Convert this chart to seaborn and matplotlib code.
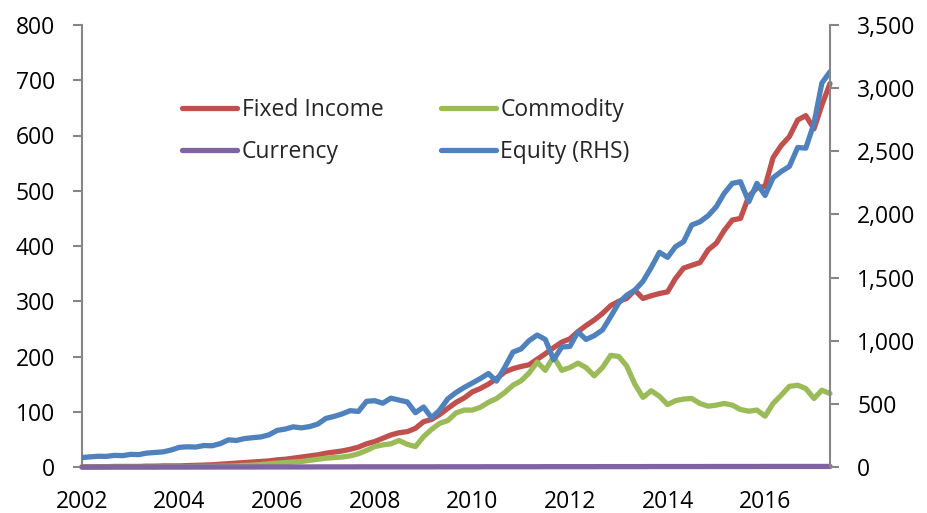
import pandas as pd
import matplotlib
matplotlib.use("Agg")
import matplotlib.pyplot as plt
import matplotlib.dates as mdates
from matplotlib.ticker import StrMethodFormatter
import seaborn as sns

# Bimonthly observations, Jan 2002 - May 2017
dates = pd.date_range("2002-01-01", "2017-05-01", freq="2MS")

fixed_income = [
    0, 0, 0.5, 0.5, 1, 1,
    1, 1, 1.5, 1.5, 2, 2,
    2, 2.5, 3, 3.5, 4, 5,
    6, 7, 8, 9, 10, 11,
    13, 14, 16, 18, 20, 22,
    25, 27, 29, 32, 36, 42,
    46, 52, 58, 62, 64, 70,
    82, 86, 95, 106, 117, 125,
    136, 142, 150, 160, 172, 178,
    182, 185, 195, 205, 216, 226,
    232, 245, 256, 266, 278, 292,
    300, 305, 320, 305, 310, 314,
    317, 341, 360, 365, 370, 393,
    405, 428, 447, 450, 490, 505,
    508, 560, 582, 598, 628, 636,
    612, 655, 694,
]
commodity = [
    0, 0, 0, 0, 0, 0,
    0, 0, 0, 0, 0.5, 0.5,
    0.5, 0.5, 1, 1, 1, 1.5,
    1.5, 2, 3, 3.5, 4.5, 6,
    7, 8, 9, 10, 12, 14,
    16, 17, 18, 20, 24, 30,
    37, 40, 42, 48, 41, 37,
    55, 68, 79, 84, 98, 103,
    103, 108, 117, 124, 135, 148,
    156, 170, 190, 175, 200, 175,
    180, 188, 180, 165, 180, 202,
    200, 183, 150, 126, 138, 128,
    113, 120, 123, 124, 115, 110,
    112, 115, 112, 104, 101, 103,
    92, 115, 130, 146, 148, 142,
    124, 139, 133,
]
currency = [
    0.0, 0.0, 0.0, 0.0, 0.0, 0.0,
    0.0, 0.0, 0.0, 0.0, 0.0, 0.0,
    0.0, 0.0, 0.0, 0.0, 0.0, 0.0,
    0.0, 0.0, 0.0, 0.0, 0.1, 0.1,
    0.1, 0.1, 0.1, 0.1, 0.1, 0.2,
    0.2, 0.2, 0.2, 0.2, 0.3, 0.3,
    0.3, 0.3, 0.3, 0.3, 0.3, 0.3,
    0.3, 0.3, 0.4, 0.4, 0.4, 0.4,
    0.4, 0.4, 0.5, 0.5, 0.5, 0.5,
    0.5, 0.5, 0.5, 0.6, 0.6, 0.6,
    0.6, 0.6, 0.6, 0.6, 0.7, 0.7,
    0.7, 0.7, 0.7, 0.7, 0.8, 0.8,
    0.8, 0.8, 0.8, 0.8, 0.8, 0.9,
    0.9, 0.9, 0.9, 0.9, 0.9, 0.9,
    1.0, 1.0, 1.0, 1.0, 1.0, 1.0,
    1.0, 1.0, 1.0,
]
equity = [
    75, 80, 85, 84, 92, 90,
    100, 98, 110, 115, 120, 135,
    156, 160, 158, 170, 168, 185,
    215, 210, 225, 232, 238, 255,
    290, 300, 318, 310, 320, 340,
    385, 400, 420, 446, 440, 520,
    525, 505, 545, 530, 515, 430,
    475, 390, 450, 540, 590, 630,
    665, 700, 740, 680, 790, 910,
    935, 1000, 1045, 1010, 850, 950,
    955, 1070, 1010, 1040, 1085, 1190,
    1300, 1360, 1400, 1470, 1580, 1700,
    1660, 1744, 1784, 1916, 1942, 1990,
    2061, 2167, 2246, 2259, 2100, 2246,
    2150, 2290, 2340, 2380, 2530, 2525,
    2720, 3040, 3130,
]

left_ticks = [0, 100, 200, 300, 400, 500, 600, 700, 800]
right_ticks = [0, 500, 1000, 1500, 2000, 2500, 3000, 3500]
year_ticks = ["2002", "2004", "2006", "2008", "2010", "2012", "2014", "2016"]

df = pd.DataFrame({
    "date": dates,
    "Fixed Income": fixed_income,
    "Commodity": commodity,
    "Currency": currency,
    "Equity (RHS)": equity,
})

colors = {
    "Fixed Income": "#C0504D",
    "Commodity": "#9BBB59",
    "Currency": "#8064A2",
    "Equity (RHS)": "#4F81BD",
}
axis_grey = "#868686"
fs = 16.5

sns.set_style("white")
plt.rcParams["font.family"] = ["Open Sans", "DejaVu Sans"]
plt.rcParams["font.size"] = fs

fig = plt.figure(figsize=(9.27, 5.13), dpi=100)
ax = fig.add_axes([82 / 927, 1 - 467 / 513, 748 / 927, 442 / 513])
ax2 = ax.twinx()

for name in ["Fixed Income", "Commodity", "Currency"]:
    sns.lineplot(data=df, x="date", y=name, ax=ax, color=colors[name],
                 lw=3.8, label=name, legend=False, clip_on=False, zorder=3)
sns.lineplot(data=df, x="date", y="Equity (RHS)", ax=ax2,
             color=colors["Equity (RHS)"], lw=3.8, label="Equity (RHS)", legend=False)

ax.set_xlim(df["date"].iloc[0], df["date"].iloc[-1])
ax.set_ylim(0, 800)
ax2.set_ylim(0, 3500)
ax.set_yticks(left_ticks)
ax2.set_yticks(right_ticks)
ax2.yaxis.set_major_formatter(StrMethodFormatter("{x:,.0f}"))
ax.set_xticks(pd.to_datetime([y + "-01-01" for y in year_ticks]))
ax.xaxis.set_major_formatter(mdates.DateFormatter("%Y"))
ax.set_xlabel("")
ax.set_ylabel("")
ax2.set_ylabel("")

for a in (ax, ax2):
    a.spines["top"].set_visible(False)
    for s in a.spines.values():
        s.set_color(axis_grey)
        s.set_linewidth(1.5)
    a.tick_params(axis="both", direction="out", length=6.5, width=1.5,
                  color=axis_grey, labelsize=fs, labelcolor="black")
ax.spines["right"].set_visible(False)
ax2.spines["left"].set_visible(False)
ax2.spines["bottom"].set_visible(False)
ax.tick_params(axis="x", pad=10)
ax.tick_params(axis="y", left=True, pad=13)
ax2.tick_params(axis="y", right=True, pad=13)

h1, l1 = ax.get_legend_handles_labels()
h2, l2 = ax2.get_legend_handles_labels()
handles = [h1[0], h1[2], h1[1], h2[0]]
labels = [l1[0], l1[2], l1[1], l2[0]]
ax2.legend(handles, labels, ncol=2, frameon=False, loc="upper left",
           bbox_to_anchor=(182 / 927, 1 - 98 / 513), bbox_transform=fig.transFigure,
           borderaxespad=0, borderpad=0, handlelength=2.4, handletextpad=0.2,
           columnspacing=2.5, labelspacing=0.8, fontsize=fs)

fig.savefig("out.png", dpi=100)
